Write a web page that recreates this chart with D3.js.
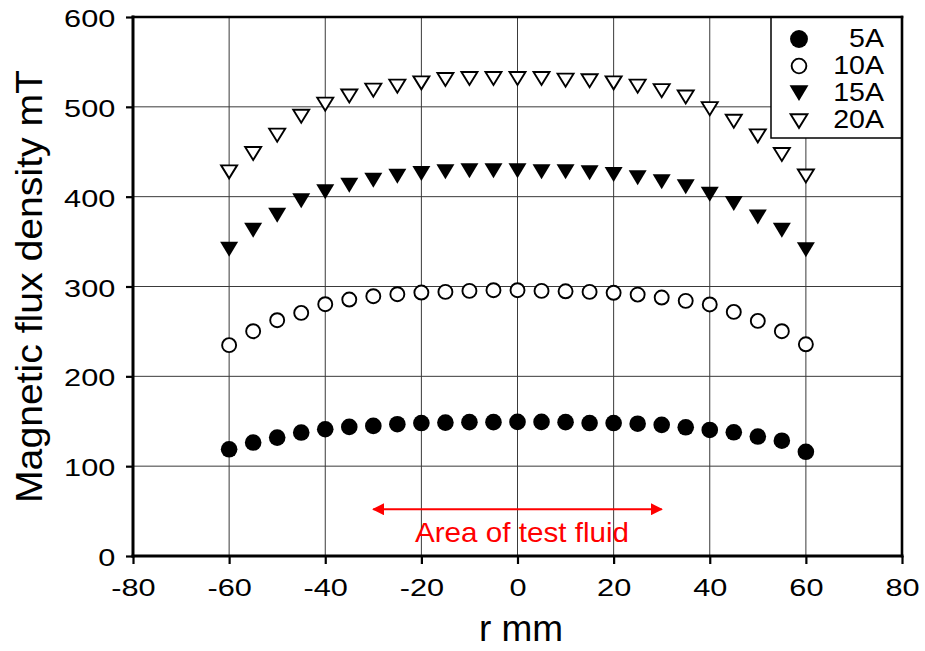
<!DOCTYPE html>
<html>
<head>
<meta charset="utf-8">
<script src="https://cdn.jsdelivr.net/npm/d3@7"></script>
<style>
  html, body { margin: 0; padding: 0; background: #fff; }
  svg { display: block; font-family: "Liberation Sans", Arial, Helvetica, sans-serif; }
</style>
</head>
<body>
<svg id="chart" width="925" height="651"></svg>
<script>
// Radial position (mm) of each measurement
const positions = [-60, -55, -50, -45, -40, -35, -30, -25, -20, -15, -10, -5, 0,
                   5, 10, 15, 20, 25, 30, 35, 40, 45, 50, 55, 60];

// Magnetic flux density (mT) at each coil current
const flux5A  = [118.8, 126.3, 131.8, 137.4, 141.1, 143.7, 144.8, 146.7, 148.0, 148.5, 149.0, 149.0, 149.3,
                 149.3, 149.0, 148.0, 148.0, 147.3, 146.0, 143.3, 140.3, 137.7, 133.0, 128.3, 116.0];
const flux10A = [234.7, 250.2, 262.5, 270.6, 280.3, 285.5, 289.2, 291.4, 293.3, 294.0, 295.1, 295.9, 295.9,
                 295.1, 294.7, 294.0, 293.0, 291.0, 287.7, 284.0, 280.0, 271.7, 261.7, 250.2, 235.7];
const flux15A = [341.5, 362.7, 379.4, 395.4, 405.4, 412.8, 418.4, 422.8, 425.8, 427.6, 428.8, 428.8, 428.8,
                 427.6, 427.6, 426.5, 424.7, 421.0, 416.5, 411.0, 402.8, 392.4, 377.5, 362.7, 341.0];
const flux20A = [427.6, 448.0, 468.5, 489.6, 503.0, 512.0, 518.6, 523.0, 526.7, 530.5, 531.6, 531.6, 531.6,
                 531.6, 529.7, 529.0, 526.7, 523.0, 518.0, 511.0, 498.0, 484.0, 467.7, 447.0, 423.0];

const seriesNames = ["5A", "10A", "15A", "20A"];
const seriesValues = [flux5A, flux10A, flux15A, flux20A];
const seriesMarkers = ["filledCircle", "openCircle", "filledTriangle", "openTriangle"];

const xTicks = [-80, -60, -40, -20, 0, 20, 40, 60, 80];
const yTicks = [0, 100, 200, 300, 400, 500, 600];

// Test fluid region (mm) and the height at which its arrow is drawn (mT)
const fluidRange = [-30, 30];
const fluidArrowLevel = 52;
const fluidLabel = "Area of test fluid";

const xTitle = "r mm";
const yTitle = "Magnetic flux density mT";

// ---- layout ----
const svg = d3.select("#chart");
const plotLeft = 133, plotRight = 902, plotTop = 17, plotBottom = 556;
const x = d3.scaleLinear().domain([-80, 80]).range([plotLeft, plotRight]);
const y = d3.scaleLinear().domain([0, 600]).range([plotBottom, plotTop]);
const tickStretch = 1.28;

// marker shapes
function markerPath(kind, s) {
  if (kind.endsWith("Circle")) {
    const r = (kind === "filledCircle" ? 8.3 : 7) * s;
    return `M${r},0A${r},${r} 0 1,1 ${-r},0A${r},${r} 0 1,1 ${r},0Z`;
  }
  const w = (kind === "filledTriangle" ? 9 : 8) * s;
  const h = (kind === "filledTriangle" ? 7.5 : 6.5) * s;
  return `M${-w},${-h}L${w},${-h}L0,${h}Z`;
}
function markerStyle(sel, kind) {
  if (kind.startsWith("filled")) sel.attr("fill", "#000").attr("stroke", "none");
  else sel.attr("fill", "#fff").attr("stroke", "#000").attr("stroke-width", 1.9);
}

// gridlines
const grid = svg.append("g");
grid.selectAll("line.gx").data(xTicks.slice(1, -1)).join("line")
  .attr("x1", d => x(d)).attr("x2", d => x(d))
  .attr("y1", plotTop).attr("y2", plotBottom)
  .attr("stroke", "#3a3a3a").attr("stroke-width", 1);
grid.selectAll("line.gy").data(yTicks.slice(1, -1)).join("line")
  .attr("x1", plotLeft).attr("x2", plotRight)
  .attr("y1", d => y(d)).attr("y2", d => y(d))
  .attr("stroke", "#3a3a3a").attr("stroke-width", 1);

// legend box sits over the grid
const legendBox = { x0: 771, y0: plotTop, x1: plotRight, y1: 138 };
svg.append("rect")
  .attr("x", legendBox.x0).attr("y", legendBox.y0)
  .attr("width", legendBox.x1 - legendBox.x0).attr("height", legendBox.y1 - legendBox.y0)
  .attr("fill", "#fff").attr("stroke", "#000").attr("stroke-width", 1.5);

// axes (plain hyphen for negative labels)
const plainFormat = d => String(d);
const xAxis = d3.axisBottom(x).tickValues(xTicks).tickFormat(plainFormat)
  .tickSizeInner(8).tickSizeOuter(0).tickPadding(16);
const yAxis = d3.axisLeft(y).tickValues(yTicks).tickFormat(plainFormat)
  .tickSizeInner(7).tickSizeOuter(0).tickPadding(6.8);

const gx = svg.append("g").attr("transform", `translate(0,${plotBottom})`).call(xAxis);
const gy = svg.append("g").attr("transform", `translate(${plotLeft},0)`).call(yAxis);
[gx, gy].forEach(g => {
  g.select(".domain").remove();
  g.selectAll(".tick line").attr("stroke", "#000").attr("stroke-width", 2.2);
  g.selectAll(".tick text")
    .attr("fill", "#000")
    .style("font-size", "24px")
    .attr("transform", `scale(${tickStretch},1)`);
});
gy.selectAll(".tick text").attr("dy", "0.4em");
gx.selectAll(".tick text").attr("dy", "0.68em");

// plot frame
const frame = svg.append("g").attr("stroke", "#000").attr("stroke-linecap", "square");
frame.append("line").attr("x1", plotLeft).attr("x2", plotLeft).attr("y1", plotTop).attr("y2", plotBottom).attr("stroke-width", 3);
frame.append("line").attr("x1", plotLeft).attr("x2", plotRight).attr("y1", plotBottom).attr("y2", plotBottom).attr("stroke-width", 3);
frame.append("line").attr("x1", plotLeft).attr("x2", plotRight).attr("y1", plotTop).attr("y2", plotTop).attr("stroke-width", 2.6);
frame.append("line").attr("x1", plotRight).attr("x2", plotRight).attr("y1", plotTop).attr("y2", plotBottom).attr("stroke-width", 2.6);

// data markers
seriesValues.forEach((vals, i) => {
  const kind = seriesMarkers[i];
  svg.append("g").selectAll("path").data(positions.map((p, j) => [p, vals[j]])).join("path")
    .attr("transform", d => `translate(${x(d[0])},${y(d[1])})`)
    .attr("d", markerPath(kind, 1))
    .call(markerStyle, kind);
});

// legend entries
const legendRows = [39, 66, 93, 121];
const legendBaselines = [47, 74, 101, 128];
seriesNames.forEach((name, i) => {
  const kind = seriesMarkers[i];
  svg.append("path")
    .attr("transform", `translate(799,${legendRows[i]})`)
    .attr("d", markerPath(kind, kind === "filledCircle" ? 1.08 : 1.05))
    .call(markerStyle, kind);
  svg.append("text")
    .attr("transform", `translate(884,${legendBaselines[i]}) scale(1.12,1)`)
    .attr("text-anchor", "end")
    .style("font-size", "25.5px")
    .text(name);
});

// test fluid arrow
const defs = svg.append("defs");
["start", "end"].forEach(id => {
  defs.append("marker")
    .attr("id", "arrow-" + id)
    .attr("viewBox", "0 0 10 10").attr("refX", 9).attr("refY", 5)
    .attr("markerWidth", 12).attr("markerHeight", 12)
    .attr("markerUnits", "userSpaceOnUse")
    .attr("orient", id === "start" ? "auto-start-reverse" : "auto")
    .append("path").attr("d", "M0,0L10,5L0,10Z").attr("fill", "#ff0000");
});
svg.append("line")
  .attr("x1", x(fluidRange[0])).attr("x2", x(fluidRange[1]))
  .attr("y1", y(fluidArrowLevel)).attr("y2", y(fluidArrowLevel))
  .attr("stroke", "#ff0000").attr("stroke-width", 2)
  .attr("marker-start", "url(#arrow-start)")
  .attr("marker-end", "url(#arrow-end)");
svg.append("text")
  .attr("x", 522).attr("y", 542)
  .attr("text-anchor", "middle")
  .attr("fill", "#ff0000")
  .style("font-size", "28px")
  .attr("textLength", 214).attr("lengthAdjust", "spacingAndGlyphs")
  .text(fluidLabel);

// axis titles
svg.append("text")
  .attr("x", 521).attr("y", 641)
  .attr("text-anchor", "middle")
  .style("font-size", "37px")
  .text(xTitle);
svg.append("text")
  .attr("transform", `translate(42,${(70 + 503) / 2}) rotate(-90)`)
  .attr("text-anchor", "middle")
  .style("font-size", "37px")
  .attr("textLength", 433).attr("lengthAdjust", "spacingAndGlyphs")
  .text(yTitle);
</script>
</body>
</html>
